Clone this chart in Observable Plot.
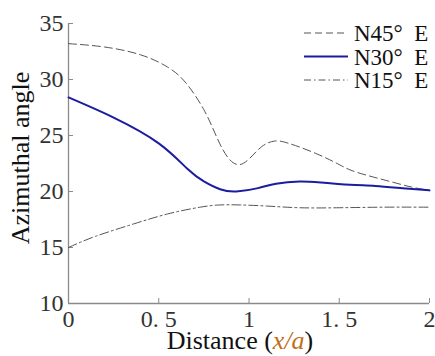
<!DOCTYPE html>
<html>
<head>
<meta charset="utf-8">
<script src="https://cdn.jsdelivr.net/npm/d3@7"></script>
<script src="https://cdn.jsdelivr.net/npm/@observablehq/plot@0.6"></script>
<style>
  html, body { margin: 0; padding: 0; background: #fff; }
  #chart svg { display: block; }
</style>
</head>
<body>
<div id="chart"></div>
<script>
// ---- data ----
const seriesNames = ["N45° E", "N30° E", "N15° E"];
const xN45 = [0, 0.2, 0.4, 0.55, 0.65, 0.75, 0.82, 0.88, 0.94, 1.0, 1.07, 1.14, 1.22, 1.37, 1.5, 1.6, 1.78, 1.9, 2.0];
const yN45 = [33.2, 32.9, 32.2, 31.1, 29.7, 27.3, 24.9, 23.1, 22.4, 22.9, 24.0, 24.5, 24.3, 23.4, 22.4, 21.7, 20.9, 20.4, 20.1];
const xN30 = [0, 0.25, 0.5, 0.66, 0.75, 0.84, 0.93, 1.05, 1.15, 1.28, 1.4, 1.56, 1.7, 1.85, 2.0];
const yN30 = [28.4, 26.6, 24.3, 22.0, 20.9, 20.2, 20.0, 20.3, 20.7, 20.9, 20.8, 20.6, 20.5, 20.3, 20.1];
const xN15 = [0, 0.15, 0.36, 0.55, 0.73, 0.84, 0.95, 1.1, 1.28, 1.5, 1.75, 2.0];
const yN15 = [15.0, 16.0, 17.1, 18.0, 18.6, 18.8, 18.8, 18.7, 18.55, 18.55, 18.6, 18.6];
const xTicks = [0, 0.5, 1, 1.5, 2];
const xTickLabels = ["0", "0. 5", "1", "1. 5", "2"];
const yTicks = [10, 15, 20, 25, 30, 35];
const yTickLabels = ["10", "15", "20", "25", "30", "35"];
const xLabel = ["Distance (", "x/a", ")"];
const yLabel = "Azimuthal angle";

// ---- build tables ----
const toRows = (xs, ys, s) => xs.map((x, i) => ({x, y: ys[i], s}));
const rows45 = toRows(xN45, yN45, seriesNames[0]);
const rows30 = toRows(xN30, yN30, seriesNames[1]);
const rows15 = toRows(xN15, yN15, seriesNames[2]);
const xLab = new Map(xTicks.map((t, i) => [t, xTickLabels[i]]));
const yLab = new Map(yTicks.map((t, i) => [t, yTickLabels[i]]));

const W = 435, H = 356;
const mL = 68, mR = 6, mT = 23, mB = 53;
const font = "Liberation Serif";
const axisGray = "#8a8a8a";

const plot = Plot.plot({
  width: W, height: H,
  marginLeft: mL, marginRight: mR, marginTop: mT, marginBottom: mB,
  style: {background: "#fff", color: "#333", fontFamily: font},
  x: {domain: [0, 2]},
  y: {domain: [10, 35]},
  marks: [
    Plot.axisX({ticks: xTicks, tickSize: 0, tickPadding: 6, tickFormat: d => xLab.get(d), fontSize: 24, label: null, fill: "#333"}),
    Plot.axisY({ticks: yTicks, tickSize: 0, tickPadding: 5, tickFormat: d => yLab.get(d), fontSize: 24, label: null, fill: "#333"}),
    Plot.tickX(xTicks, {x: d => d, stroke: axisGray, insetTop: H - mT - mB - 5}),
    Plot.tickY(yTicks, {y: d => d, stroke: axisGray, insetRight: W - mL - mR - 5}),
    Plot.ruleX([0], {stroke: axisGray, strokeWidth: 1.3}),
    Plot.ruleY([10], {stroke: axisGray, strokeWidth: 1.3}),
    Plot.line(rows45, {x: "x", y: "y", curve: "natural", stroke: "#555", strokeWidth: 1, strokeDasharray: "8,4"}),
    Plot.line(rows15, {x: "x", y: "y", curve: "natural", stroke: "#555", strokeWidth: 1, strokeDasharray: "9,3,2,3"}),
    Plot.line(rows30, {x: "x", y: "y", curve: "natural", stroke: "#1c1ca0", strokeWidth: 2})
  ]
});

plot.setAttribute("font-family", font);
document.getElementById("chart").appendChild(plot);

// ---- axis titles and legend ----
const svg = d3.select(plot);
const xt = svg.append("text")
  .attr("x", 240).attr("y", 349)
  .attr("text-anchor", "middle")
  .attr("font-size", 26).attr("fill", "#111");
xt.append("tspan").text(xLabel[0]);
xt.append("tspan").attr("font-style", "italic").attr("fill", "#c0701a").text(xLabel[1]);
xt.append("tspan").text(xLabel[2]);

svg.append("text")
  .attr("transform", `translate(29, 158) rotate(-90)`)
  .attr("text-anchor", "middle")
  .attr("font-size", 26).attr("fill", "#111")
  .text(yLabel);

const legendItems = [
  {name: seriesNames[0], stroke: "#555", w: 1, dash: "7,4"},
  {name: seriesNames[1], stroke: "#1c1ca0", w: 2, dash: "none"},
  {name: seriesNames[2], stroke: "#555", w: 1, dash: "7,3,1.5,3"}
];
const lg = svg.append("g").attr("text-anchor", "start");
legendItems.forEach((d, i) => {
  const yy = 33 + i * 23.5;
  lg.append("line").attr("x1", 304).attr("x2", 348).attr("y1", yy).attr("y2", yy)
    .attr("stroke", d.stroke).attr("stroke-width", d.w)
    .attr("stroke-dasharray", d.dash);
  lg.append("text").attr("x", 354).attr("y", yy).attr("dy", "0.35em")
    .attr("text-anchor", "start")
    .attr("font-size", 23).attr("fill", "#111")
    .text(d.name.replace("° ", "°  "));
});

// force the serif face on every text node, then force a synchronous layout
svg.selectAll("text, tspan").style("font-family", font).style("white-space", "pre");
svg.selectAll("text").each(function() { this.getComputedTextLength(); this.getBBox(); });
</script>
</body>
</html>
